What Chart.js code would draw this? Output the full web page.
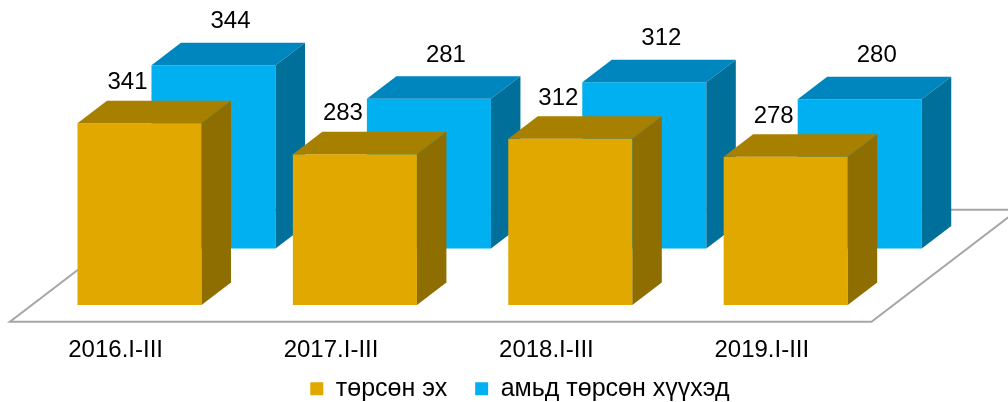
<!DOCTYPE html>
<html>
<head>
<meta charset="utf-8">
<script src="https://cdn.jsdelivr.net/npm/chart.js@4.4.1/dist/chart.umd.min.js"></script>
<style>
  html, body { margin: 0; padding: 0; background: #fff; }
  #wrap { width: 1008px; height: 402px; }
</style>
</head>
<body>
<div id="wrap"><canvas id="births" width="1008" height="402"></canvas></div>
<script>
// Data
const periods = ["2016.I-III", "2017.I-III", "2018.I-III", "2019.I-III"];
const mothers = [341, 283, 312, 278];
const liveBirths = [344, 281, 312, 280];
const seriesNames = ["төрсөн эх", "амьд төрсөн хүүхэд"];

// 3D look: z is depth in pixels, projected up and to the right
const K = 1.31;
const BAR_DEPTH = 22.5;
const ROW_GAP = 56.5;
const FLOOR_FRONT = -16.7;
const FLOOR_BACK = 95.3;
const FONT = "'Liberation Sans', Arial, sans-serif";

function proj(x, y, z) {
    return [x + K * z, y - z];
}

function poly(ctx, pts, color) {
    ctx.beginPath();
    ctx.moveTo(pts[0][0], pts[0][1]);
    for (let i = 1; i < pts.length; i++) ctx.lineTo(pts[i][0], pts[i][1]);
    ctx.closePath();
    ctx.fillStyle = color;
    ctx.fill();
}

function drawPrism(ctx, l, r, top, bottom, z0, z1, faces) {
    // front
    poly(ctx, [proj(l, top, z0), proj(r, top, z0), proj(r, bottom, z0), proj(l, bottom, z0)], faces.front);
    // top
    poly(ctx, [proj(l, top, z0), proj(r, top, z0), proj(r, top, z1), proj(l, top, z1)], faces.top);
    // right side
    poly(ctx, [proj(r, top, z0), proj(r, top, z1), proj(r, bottom, z1), proj(r, bottom, z0)], faces.side);
}

const bars3d = {
    id: "bars3d",
    beforeDatasetsDraw(chart) {
        const ctx = chart.ctx;
        const area = chart.chartArea;
        const xs = chart.scales.x;
        const zero = chart.scales.y.getPixelForValue(0);
        ctx.save();

        // floor
        const floor = [
            proj(area.left, zero, FLOOR_FRONT), proj(area.right, zero, FLOOR_FRONT),
            proj(area.right, zero, FLOOR_BACK), proj(area.left, zero, FLOOR_BACK)
        ];
        poly(ctx, floor, "#ffffff");
        ctx.strokeStyle = "#a6a6a6";
        ctx.lineWidth = 2;
        ctx.stroke();

        // category labels along the front edge of the floor
        ctx.fillStyle = "#000";
        ctx.font = "24px " + FONT;
        ctx.textAlign = "center";
        ctx.textBaseline = "middle";
        periods.forEach((p, i) => {
            const pt = proj(xs.getPixelForValue(i), zero, FLOOR_FRONT);
            ctx.fillText(p, pt[0] - 2, pt[1] + 29);
        });

        // back row first, then front row
        for (let d = chart.data.datasets.length - 1; d >= 0; d--) {
            const ds = chart.data.datasets[d];
            const z0 = ds.row * ROW_GAP;
            chart.getDatasetMeta(d).data.forEach(bar => {
                const p = bar.getProps(["x", "y", "base", "width"], true);
                drawPrism(ctx, p.x - p.width / 2, p.x + p.width / 2, p.y, p.base, z0, z0 + BAR_DEPTH, ds.faces);
            });
        }

        // value labels
        ctx.fillStyle = "#000";
        chart.data.datasets.forEach((ds, d) => {
            const z0 = ds.row * ROW_GAP;
            chart.getDatasetMeta(d).data.forEach((bar, i) => {
                const p = bar.getProps(["x", "y"], true);
                const front = proj(p.x, p.y, z0);
                ctx.fillText(String(ds.data[i]), front[0] + ds.labelDx, p.y - z0 - BAR_DEPTH - ds.labelGap);
            });
        });

        ctx.restore();
        return false;
    }
};

Chart.defaults.font.family = FONT;
Chart.defaults.color = "#000";

new Chart(document.getElementById("births").getContext("2d"), {
    type: "bar",
    data: {
        labels: periods,
        datasets: [{
            label: seriesNames[0],
            data: mothers,
            backgroundColor: "rgb(225,169,0)",
            borderWidth: 0,
            row: 0,
            labelDx: -12,
            labelGap: 18,
            faces: { front: "rgb(225,169,0)", top: "rgb(168,128,0)", side: "rgb(142,110,0)" }
        }, {
            label: seriesNames[1],
            data: liveBirths,
            backgroundColor: "rgb(0,176,240)",
            borderWidth: 0,
            row: 1,
            labelDx: 17,
            labelGap: 21,
            faces: { front: "rgb(0,176,240)", top: "rgb(0,134,190)", side: "rgb(0,112,155)" }
        }]
    },
    options: {
        responsive: false,
        animation: false,
        devicePixelRatio: 1,
        grouped: false,
        categoryPercentage: 1,
        barPercentage: 0.576,
        layout: { padding: { left: 31.8, right: 0, top: 91.8, bottom: -9.3 } },
        plugins: {
            legend: {
                position: "bottom",
                labels: { boxWidth: 13, boxHeight: 13, padding: 28, font: { size: 25 } }
            },
            tooltip: { enabled: false }
        },
        scales: {
            x: {
                grid: { display: false, drawTicks: false },
                border: { display: false },
                ticks: { display: false },
                afterFit(s) { s.height = 43.3; }
            },
            y: {
                position: "right",
                min: 0,
                max: 400,
                grid: { display: false },
                border: { display: false },
                ticks: { display: false },
                afterFit(s) { s.width = 114.6; }
            }
        }
    },
    plugins: [bars3d]
});
</script>
</body>
</html>
